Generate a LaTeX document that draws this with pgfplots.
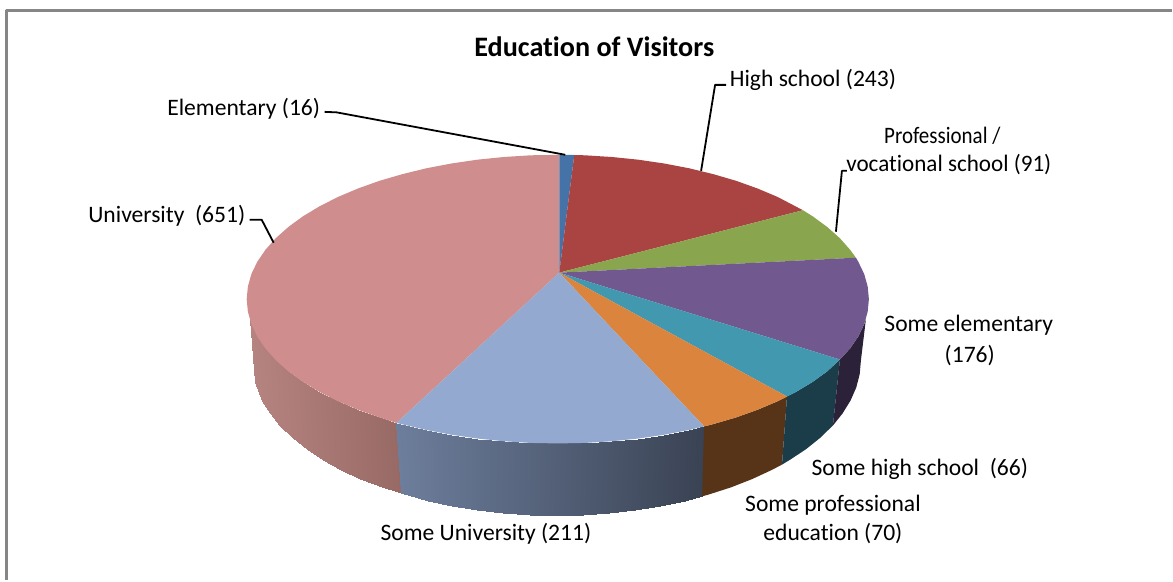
\documentclass[border=0pt]{standalone}
\usepackage{fontspec}
\setmainfont{Carlito}[Ligatures=NoCommon]
\usepackage{pgfplots}
\pgfplotsset{compat=1.18}
\definecolor{elem}{HTML}{4572A7}
\definecolor{high}{HTML}{A94442}
\definecolor{prof}{HTML}{89A54E}
\definecolor{selem}{HTML}{71588F}
\definecolor{shs}{HTML}{4198AF}
\definecolor{sprof}{HTML}{DB843D}
\definecolor{suni}{HTML}{93A9CF}
\definecolor{uni}{HTML}{CF8E8D}
\definecolor{frame}{HTML}{868686}
\definecolor{selemw}{HTML}{2B2138}
\definecolor{shsw}{HTML}{1B3D4A}
\definecolor{sprofw}{HTML}{573418}
\tikzset{lab/.style={font=\fontsize{23.6}{28}\selectfont, text=black, inner sep=0pt, anchor=base}}
\begin{document}
\begin{tikzpicture}
\path (0,0) rectangle (1173pt,581pt);
\begin{axis}[
  at={(0,0)}, anchor=south west,
  scale only axis, width=1173pt, height=581pt,
  xmin=0, xmax=1173, ymin=0, ymax=581,
  y dir=reverse,
  hide axis, clip=false,
  every axis plot/.append style={line join=round},
  colormap={walls}{rgb255(0)=(182,132,128) rgb255(100)=(152,106,102) rgb255(101)=(109,126,156) rgb255(200)=(58,67,84)},
  point meta min=0, point meta max=200,
]
% frame
\addplot[frame, line width=3pt] coordinates {(1173,10.3) (6.7,10.3) (6.7,581)};

% side walls
\addplot[patch, patch type=rectangle, shader=interp, point meta=explicit] table[meta=m] {
x y m
250.0 319.6 0
257.6 336.9 5
262.4 401.1 5
255.0 382.6 0
257.6 336.9 5
265.8 348.9 11
270.4 414.0 11
262.4 401.1 5
265.8 348.9 11
276.2 360.6 18
280.6 426.5 18
270.4 414.0 11
276.2 360.6 18
288.7 371.8 26
292.9 438.5 26
280.6 426.5 18
288.7 371.8 26
303.3 382.4 36
307.1 449.9 36
292.9 438.5 26
303.3 382.4 36
319.9 392.4 48
323.4 460.6 48
307.1 449.9 36
319.9 392.4 48
338.2 401.7 60
341.3 470.6 60
323.4 460.6 48
338.2 401.7 60
358.3 410.2 74
360.9 479.7 74
341.3 470.6 60
358.3 410.2 74
379.8 417.9 88
382.1 488.0 88
360.9 479.7 74
379.8 417.9 88
397.0 423.5 100
402.0 494.0 100
382.1 488.0 88
397.0 423.5 101
426.9 430.5 110.6
428.1 501.5 110.6
402.0 494.0 101
426.9 430.5 110.6
452.0 435.3 118.7
452.7 506.7 118.7
428.1 501.5 110.6
452.0 435.3 118.7
477.9 439.1 127
478.1 510.7 127
452.7 506.7 118.7
477.9 439.1 127
504.4 441.8 135.5
504.0 513.6 135.5
478.1 510.7 127
504.4 441.8 135.5
531.3 443.5 144
530.4 515.4 144
504.0 513.6 135.5
531.3 443.5 144
558.5 444.0 153
557.0 516.0 153
530.4 515.4 144
558.5 444.0 153
585.7 443.5 161.7
583.6 515.4 161.7
557.0 516.0 153
585.7 443.5 161.7
612.6 441.8 170
610.0 513.6 170
583.6 515.4 161.7
612.6 441.8 170
639.1 439.1 179
635.9 510.7 179
610.0 513.6 170
639.1 439.1 179
665.0 435.3 187
661.3 506.7 187
635.9 510.7 179
665.0 435.3 187
690.1 430.5 195
685.9 501.5 195
661.3 506.7 187
690.1 430.5 195
705.0 427.0 200
703.0 497.0 200
685.9 501.5 195
};
\addplot[draw=none, fill=sprofw] coordinates {(788,397) (778.8,401.7) (758.7,410.2) (737.2,417.9) (714.3,424.6) (705,427) (703,497) (709.5,495.2) (731.9,488) (753.1,479.7) (772.7,470.6) (783,465.2)} --cycle;
\addplot[draw=none, fill=shsw] coordinates {(841,360) (828.3,371.8) (813.7,382.4) (797.1,392.4) (788,397) (783,465.2) (790.6,460.6) (806.9,449.9) (821.1,438.5) (834,426)} --cycle;
\addplot[draw=none, fill=selemw] coordinates {(867,319.6) (865.3,324.6) (859.4,336.9) (851.2,348.9) (841,360) (834,426) (843.6,414) (851.6,401.1) (857.4,387.9) (860.8,374.5) (862,361)} --cycle;

% top face
\addplot[draw=none, fill=uni] coordinates {(560,273) (397,423.5) (379.8,417.9) (358.3,410.2) (338.2,401.7) (319.9,392.4) (303.3,382.4) (288.7,371.8) (276.2,360.6) (265.8,348.9) (257.6,336.9) (251.7,324.6) (248.2,312.1) (247,299.5) (248.2,286.9) (251.7,274.4) (257.6,262.1) (265.8,250.1) (276.2,238.4) (288.7,227.3) (303.3,216.6) (319.9,206.6) (338.2,197.3) (358.3,188.8) (379.8,181.1) (402.8,174.4) (426.9,168.5) (452,163.7) (477.9,159.9) (504.4,157.2) (531.3,155.5) (560,155)} --cycle;
\addplot[draw=none, fill=elem] coordinates {(560,273) (560,155) (575,155.2)} --cycle;
\addplot[draw=none, fill=high] coordinates {(560,273) (575,155.2) (585.7,155.5) (612.6,157.2) (639.1,159.9) (665,163.7) (690.1,168.5) (714.3,174.4) (737.2,181.1) (758.7,188.8) (778.8,197.3) (804,210.5)} --cycle;
\addplot[draw=none, fill=prof] coordinates {(560,273) (804,210.5) (813.7,216.6) (828.3,227.3) (840.8,238.4) (851.2,250.1) (857,258)} --cycle;
\addplot[draw=none, fill=selem] coordinates {(560,273) (857,258) (859.4,262.1) (865.3,274.4) (868.8,286.9) (870,299.5) (868.8,312.1) (865.3,324.6) (859.4,336.9) (851.2,348.9) (841,360)} --cycle;
\addplot[draw=none, fill=shs] coordinates {(560,273) (841,360) (828.3,371.8) (813.7,382.4) (797.1,392.4) (788,397)} --cycle;
\addplot[draw=none, fill=sprof] coordinates {(560,273) (788,397) (778.8,401.7) (758.7,410.2) (737.2,417.9) (714.3,424.6) (705,427)} --cycle;
\addplot[draw=none, fill=suni] coordinates {(560,273) (705,427) (690.1,430.5) (665,435.3) (639.1,439.1) (612.6,441.8) (585.7,443.5) (558.5,444) (531.3,443.5) (504.4,441.8) (477.9,439.1) (452,435.3) (426.9,430.5) (397,423.5)} --cycle;

% leader lines
\addplot[black, line width=1.8pt] coordinates {(325,112) (337,112.5) (566,155)};
\addplot[black, line width=1.8pt] coordinates {(727,85) (716,85) (702,171)};
\addplot[black, line width=1.8pt] coordinates {(848,171) (843,171) (837,232)};
\addplot[black, line width=1.8pt] coordinates {(250,220) (262,220) (274,243)};

% labels
\node[lab, font=\fontsize{28.2}{33}\selectfont\bfseries] at (axis cs:595,57) {Education of Visitors};
\node[lab] at (axis cs:244,116) {Elementary (16)};
\node[lab] at (axis cs:814,87) {High school (243)};
\node[lab, xscale=0.89] at (axis cs:943.5,144) {Professional /};
\node[lab, xscale=0.98] at (axis cs:950,172) {vocational school (91)};
\node[lab] at (axis cs:167,223) {University\ \ (651)};
\node[lab] at (axis cs:970,332) {Some elementary};
\node[lab] at (axis cs:971,363) {(176)};
\node[lab] at (axis cs:921,476) {Some high school\ \ (66)};
\node[lab] at (axis cs:834,512) {Some professional};
\node[lab] at (axis cs:834,541) {education (70)};
\node[lab] at (axis cs:486.5,541) {Some University (211)};
\end{axis}
\end{tikzpicture}
\end{document}
